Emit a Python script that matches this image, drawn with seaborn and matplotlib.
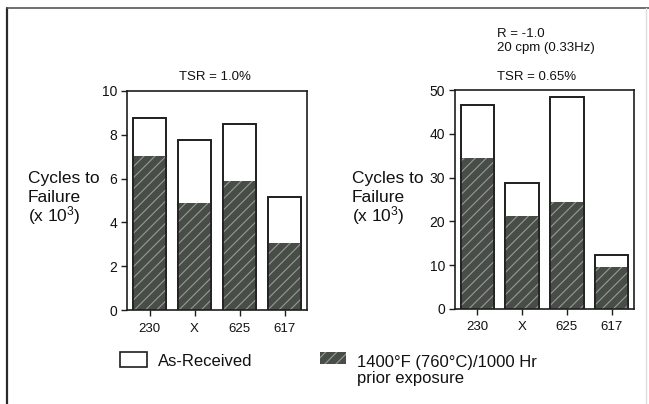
import matplotlib
matplotlib.use("Agg")
import matplotlib.pyplot as plt
import seaborn as sns
import pandas as pd
from matplotlib.lines import Line2D
from matplotlib.patches import Rectangle

alloys = ["230", "X", "625", "617"]
left_as_received = [8.75, 7.75, 8.5, 5.15]
left_exposed = [7.05, 4.9, 5.9, 3.05]
right_as_received = [46.5, 28.7, 48.5, 12.3]
right_exposed = [34.5, 21.3, 24.5, 9.6]
left_yticks = [0, 2, 4, 6, 8, 10]
right_yticks = [0, 10, 20, 30, 40, 50]

sns.set_style("white")
plt.rcParams["font.family"] = ["Liberation Sans", "DejaVu Sans"]
plt.rcParams["mathtext.fontset"] = "custom"
plt.rcParams["mathtext.rm"] = "Liberation Sans"
plt.rcParams["mathtext.it"] = "Liberation Sans"
plt.rcParams["hatch.linewidth"] = 0.8

W, H = 649, 404
fig = plt.figure(figsize=(W / 100, H / 100), dpi=100)
fig.patch.set_facecolor("white")

DARK = "#484d48"
HATCH = "#959b95"
EDGE = "#1e1e1e"


def fx(px):
    return px / W


def fy(py):
    return 1 - py / H


def panel(x0, x1, y0, y1, asr, exp, yticks):
    ax = fig.add_axes([fx(x0), fy(y1), fx(x1) - fx(x0), fy(y0) - fy(y1)])
    df = pd.DataFrame({"alloy": alloys, "asr": asr, "exp": exp})
    sns.barplot(data=df, x="alloy", y="asr", color="white", saturation=1,
                edgecolor=EDGE, linewidth=1.2, width=0.75, ax=ax, zorder=2)
    sns.barplot(data=df, x="alloy", y="exp", color=DARK, saturation=1,
                edgecolor=HATCH, linewidth=0, width=0.75, hatch="///",
                ax=ax, zorder=3)
    sns.barplot(data=df, x="alloy", y="asr", fill=False, saturation=1,
                edgecolor=EDGE, linewidth=1.2, width=0.75, ax=ax, zorder=4)
    ax.set_xlim(-0.5, 3.5)
    ax.set_ylim(yticks[0], yticks[-1])
    ax.set_yticks(yticks)
    ax.set_xlabel("")
    ax.set_ylabel("")
    for s in ax.spines.values():
        s.set_visible(True)
        s.set_color(EDGE)
        s.set_linewidth(1.2)
    ax.tick_params(axis="both", direction="out", length=4, width=1.0,
                   color=EDGE, labelsize=9.5, labelcolor="#111111", pad=3,
                   bottom=True, left=True)
    ax.tick_params(axis="y", labelsize=10)
    ax.tick_params(axis="x", pad=5)
    return ax


axL = panel(127, 307, 91, 310, left_as_received, left_exposed, left_yticks)
axR = panel(455, 634, 90, 309, right_as_received, right_exposed, right_yticks)

tc = "#111111"
fig.text(fx(215), fy(77), "TSR = 1.0%", ha="center", va="center", fontsize=9.5, color=tc)
fig.text(fx(537), fy(77), "TSR = 0.65%", ha="center", va="center", fontsize=9.5, color=tc)
fig.text(fx(497), fy(34), "R = -1.0", ha="left", va="center", fontsize=9.5, color=tc)
fig.text(fx(497), fy(48), "20 cpm (0.33Hz)", ha="left", va="center", fontsize=9.5, color=tc)

for x in (28, 352):
    fig.text(fx(x), fy(179), "Cycles to", ha="left", va="center", fontsize=12.5, color=tc)
    fig.text(fx(x), fy(197), "Failure", ha="left", va="center", fontsize=12.5, color=tc)
    fig.text(fx(x), fy(216), r"(x 10$^3$)", ha="left", va="center", fontsize=12.5, color=tc)

# legend
fig.patches.append(Rectangle((fx(120), fy(367)), fx(147) - fx(120), fy(352) - fy(367),
                             transform=fig.transFigure, facecolor="white",
                             edgecolor=EDGE, linewidth=1.2))
fig.patches.append(Rectangle((fx(320), fy(364)), fx(346) - fx(320), fy(352) - fy(364),
                             transform=fig.transFigure, facecolor=DARK,
                             edgecolor=HATCH, linewidth=0, hatch="///"))
fig.text(fx(158), fy(362), "As-Received", ha="left", va="center", fontsize=12, color=tc)
fig.text(fx(357), fy(362), "1400°F (760°C)/1000 Hr", ha="left", va="center", fontsize=12, color=tc)
fig.text(fx(357), fy(379), "prior exposure", ha="left", va="center", fontsize=12, color=tc)

# outer frame
fig.add_artist(Line2D([fx(7), fx(7)], [fy(8), 0], transform=fig.transFigure,
                      color="#2a2a2a", linewidth=1.6))
fig.add_artist(Line2D([fx(7), 1], [fy(8), fy(8)], transform=fig.transFigure,
                      color="#555555", linewidth=1.2))
fig.add_artist(Line2D([fx(646), fx(646)], [fy(8), 0], transform=fig.transFigure,
                      color="#dddddd", linewidth=1.0))

fig.savefig("out.png", dpi=100)
